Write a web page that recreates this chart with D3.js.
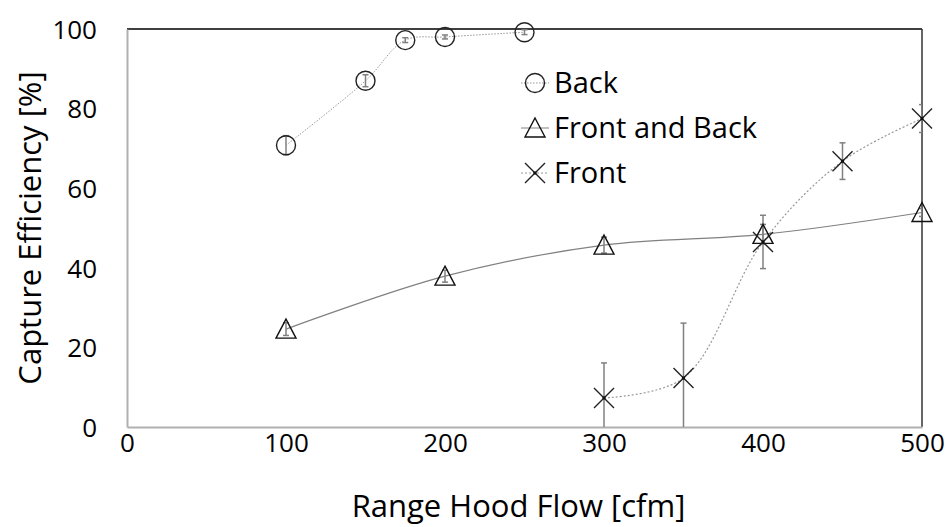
<!DOCTYPE html>
<meta charset="utf-8">
<head>
<style>
  body { margin: 0; background: #fff; }
  text { font-family: "Open Sans", Lato, sans-serif; fill: #000; }
</style>
</head>
<script src="https://d3js.org/d3.v7.min.js"></script>
<body>
<div id="chart"></div>
</body>
<script>
    // values
    var backFlow = [100, 150, 175, 200, 250];
    var backEff  = [70.8, 87, 97.2, 98, 99.2];
    var backErr  = [2.4, 1.5, 0.6, 0.5, 0.6];

    var fbFlow = [100, 200, 300, 400, 500];
    var fbEff  = [24.6, 37.9, 45.7, 48.4, 53.9];
    var fbErr  = [1.6, 1.5, 2, 2.5, 1];

    var frontFlow = [300, 350, 400, 450, 500];
    var frontEff  = [7.3, 12.3, 46.5, 66.8, 77.5];
    var frontErr  = [8.8, 13.8, 6.7, 4.6, 3.5];

    var xTicks = [0, 100, 200, 300, 400, 500];
    var yTicks = [0, 20, 40, 60, 80, 100];
    var legendNames = ["Back", "Front and Back", "Front"];

    var W = 946, H = 527;
    var margin = {top: 29, right: 24, bottom: 100, left: 127};
    var width = W - margin.left - margin.right,
        height = H - margin.top - margin.bottom;

    var svg = d3.select("#chart").append("svg")
        .attr("width", W).attr("height", H)
      .append("g")
        .attr("transform", "translate(" + margin.left + "," + margin.top + ")");

    var x = d3.scaleLinear().domain([0, 500]).range([0, width]);
    var y = d3.scaleLinear().domain([0, 100]).range([height, 0]);

    // plot frame: top black, right dark, left/bottom grey axes
    svg.append("line").attr("x1", 0).attr("x2", width).attr("y1", 0).attr("y2", 0)
        .style("stroke", "#000").style("stroke-width", 1.3);
    svg.append("line").attr("x1", width).attr("x2", width).attr("y1", 0).attr("y2", height)
        .style("stroke", "#333").style("stroke-width", 1.5);

    var xAxis = svg.append("g")
        .attr("transform", "translate(0," + height + ")")
        .call(d3.axisBottom(x).tickValues(xTicks).tickSize(0).tickPadding(2));
    var yAxis = svg.append("g")
        .call(d3.axisLeft(y).tickValues(yTicks).tickSize(0).tickPadding(30));
    [xAxis, yAxis].forEach(function(a) {
        a.select(".domain").style("stroke", "#b0b0b0").style("stroke-width", 2);
        a.selectAll("text").style("font-size", "26px").style("font-family", "Open Sans");
    });
    xAxis.selectAll("text").attr("dy", "0.9em");
    yAxis.selectAll("text").attr("dy", "0.36em");

    svg.append("text")
        .attr("x", width / 2 - 6).attr("y", height + 90)
        .style("text-anchor", "middle").style("font-size", "31px")
        .text("Range Hood Flow [cfm]");
    svg.append("text")
        .attr("transform", "rotate(-90)")
        .attr("x", -199).attr("y", -margin.left + 41)
        .style("text-anchor", "middle").style("font-size", "31px")
        .text("Capture Efficiency [%]");

    function zip(xs, ys, es) {
        return xs.map(function(v, i) { return {x: v, y: ys[i], e: es[i]}; });
    }
    var back = zip(backFlow, backEff, backErr),
        fb = zip(fbFlow, fbEff, fbErr),
        front = zip(frontFlow, frontEff, frontErr);

    svg.append("clipPath").attr("id", "plotclip")
      .append("rect").attr("x", 0).attr("y", 0).attr("width", width).attr("height", height);

    var line = d3.line()
        .x(function(d) { return x(d.x); })
        .y(function(d) { return y(d.y); })
        .curve(d3.curveCatmullRom.alpha(0.5));

    function drawErr(data) {
        var g = svg.append("g").attr("clip-path", "url(#plotclip)");
        data.forEach(function(d) {
            var lo = y(d.y - d.e), hi = y(d.y + d.e), cx = x(d.x);
            g.append("line").attr("x1", cx).attr("x2", cx).attr("y1", lo).attr("y2", hi)
                .style("stroke", "#808080").style("stroke-width", 1.5);
            [lo, hi].forEach(function(yy) {
                g.append("line").attr("x1", cx - 3).attr("x2", cx + 3).attr("y1", yy).attr("y2", yy)
                    .style("stroke", "#808080").style("stroke-width", 1.5);
            });
        });
    }

    // connecting lines
    svg.append("path").datum(back).attr("d", line)
        .style("fill", "none").style("stroke", "#999").style("stroke-width", 1)
        .style("stroke-dasharray", "1.5,1.5");
    svg.append("path").datum(fb).attr("d", line)
        .style("fill", "none").style("stroke", "#808080").style("stroke-width", 1.2);
    svg.append("path").datum(front).attr("d", line)
        .style("fill", "none").style("stroke", "#999").style("stroke-width", 1.2)
        .style("stroke-dasharray", "2,2");

    drawErr(back);
    drawErr(fb);
    drawErr(front);

    // marker drawing helpers
    function circleMark(g, cx, cy) {
        g.append("circle").attr("cx", cx).attr("cy", cy).attr("r", 9.5)
            .style("fill", "none").style("stroke", "#222").style("stroke-width", 1.4);
    }
    function triMark(g, cx, cy) {
        var s = 10;
        g.append("path")
            .attr("d", "M" + cx + "," + (cy - s) + "L" + (cx + s) + "," + (cy + s * 0.9) +
                       "L" + (cx - s) + "," + (cy + s * 0.9) + "Z")
            .style("fill", "none").style("stroke", "#111").style("stroke-width", 1.4);
    }
    function crossMark(g, cx, cy) {
        var s = 10;
        g.append("path")
            .attr("d", "M" + (cx - s) + "," + (cy - s) + "L" + (cx + s) + "," + (cy + s) +
                       "M" + (cx - s) + "," + (cy + s) + "L" + (cx + s) + "," + (cy - s))
            .style("fill", "none").style("stroke", "#222").style("stroke-width", 1.4);
        g.append("rect").attr("x", cx - 1.5).attr("y", cy - 1.5).attr("width", 3).attr("height", 3)
            .style("fill", "#111");
    }

    var marks = svg.append("g");
    back.forEach(function(d) { circleMark(marks, x(d.x), y(d.y)); });
    fb.forEach(function(d) { triMark(marks, x(d.x), y(d.y)); });
    front.forEach(function(d) { crossMark(marks, x(d.x), y(d.y)); });

    // legend
    var lg = svg.append("g").attr("transform", "translate(" + (535 - margin.left) + "," + (83 - margin.top) + ")");
    var lineStyles = [
        {stroke: "#999", dash: "1.5,1.5", draw: circleMark},
        {stroke: "#808080", dash: null, draw: triMark},
        {stroke: "#999", dash: "2,2", draw: crossMark}
    ];
    legendNames.forEach(function(name, i) {
        var yy = i * 45;
        lg.append("line").attr("x1", -14).attr("x2", 14).attr("y1", yy).attr("y2", yy)
            .style("stroke", lineStyles[i].stroke).style("stroke-width", 1)
            .style("stroke-dasharray", lineStyles[i].dash);
        lineStyles[i].draw(lg, 0, yy);
        lg.append("text").attr("x", 19).attr("y", yy).attr("dy", "0.36em")
            .style("font-size", "29px").text(name);
    });
</script>
